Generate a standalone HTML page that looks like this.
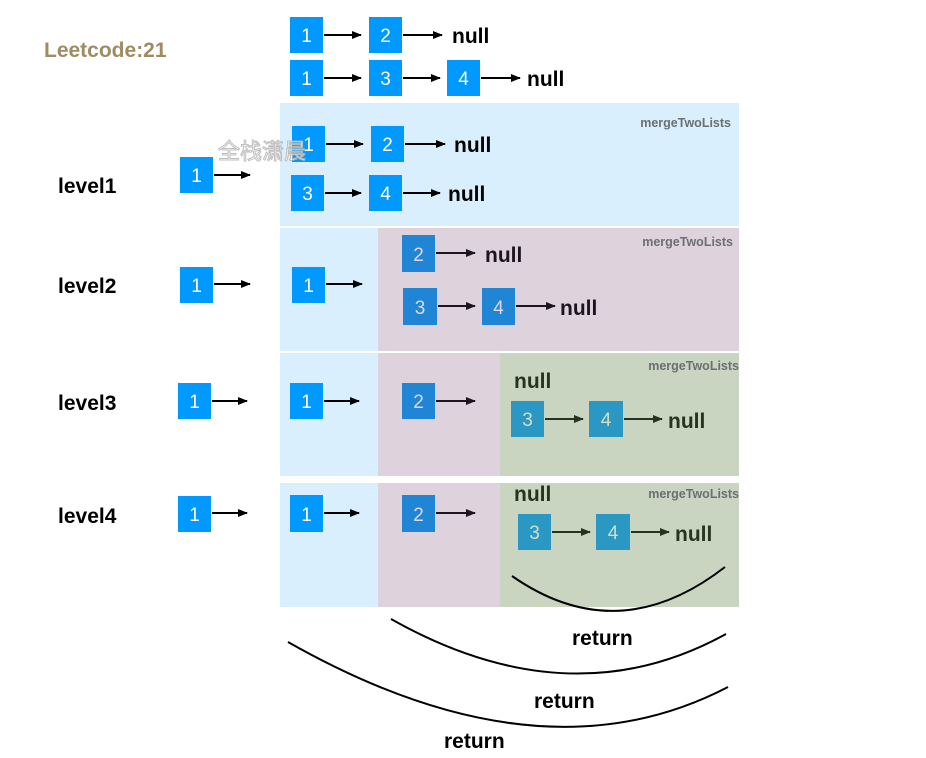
<!DOCTYPE html>
<html><head><meta charset="utf-8"><style>
html,body{margin:0;padding:0;background:#fff;width:926px;height:758px;overflow:hidden}
svg{display:block}
text{font-family:"Liberation Sans","Noto Sans CJK SC",sans-serif}
.n{fill:#fff;font-size:19px;text-anchor:middle}
.b{font-weight:bold;font-size:21px}
.lv{font-weight:bold;font-size:21px;fill:#000}
.m{font-weight:bold;font-size:12.5px;fill:#6b6f73}
</style></head><body>
<svg width="926" height="758" viewBox="0 0 926 758">
<defs>
<marker id="a" markerWidth="10" markerHeight="8" refX="9" refY="4" orient="auto" markerUnits="userSpaceOnUse"><polygon points="0,0 10,4 0,8" fill="#000"/></marker>
<marker id="g" markerWidth="10" markerHeight="8" refX="9" refY="4" orient="auto" markerUnits="userSpaceOnUse"><polygon points="0,0 10,4 0,8" fill="#26331f"/></marker>
<marker id="p" markerWidth="10" markerHeight="8" refX="9" refY="4" orient="auto" markerUnits="userSpaceOnUse"><polygon points="0,0 10,4 0,8" fill="#1d1420"/></marker>
</defs>

<rect x="280" y="103" width="459" height="123" fill="#d9effd"/>
<rect x="280" y="228" width="98" height="123" fill="#d9effd"/>
<rect x="378" y="228" width="361" height="123" fill="#ded3dc"/>
<rect x="280" y="353" width="98" height="123" fill="#d9effd"/>
<rect x="378" y="353" width="122" height="123" fill="#ded3dc"/>
<rect x="500" y="353" width="239" height="123" fill="#c9d5c0"/>
<rect x="280" y="483" width="98" height="124" fill="#d9effd"/>
<rect x="378" y="483" width="122" height="124" fill="#ded3dc"/>
<rect x="500" y="483" width="239" height="124" fill="#c9d5c0"/>

<text x="44" y="57" style="font-weight:bold;font-size:21px;fill:#a08c62">Leetcode:21</text>

<rect x="290" y="17" width="33" height="36" fill="#0099ff"/><text class="n" x="306.5" y="42">1</text>
<line x1="324" y1="35" x2="361" y2="35" stroke="#000" stroke-width="2" marker-end="url(#a)"/>
<rect x="369" y="17" width="33" height="36" fill="#0099ff"/><text class="n" x="385.5" y="42">2</text>
<line x1="403" y1="35" x2="442" y2="35" stroke="#000" stroke-width="2" marker-end="url(#a)"/>
<text class="b" x="452" y="43">null</text>
<rect x="290" y="60" width="33" height="36" fill="#0099ff"/><text class="n" x="306.5" y="85">1</text>
<line x1="324" y1="78" x2="361" y2="78" stroke="#000" stroke-width="2" marker-end="url(#a)"/>
<rect x="369" y="60" width="33" height="36" fill="#0099ff"/><text class="n" x="385.5" y="85">3</text>
<line x1="403" y1="78" x2="440" y2="78" stroke="#000" stroke-width="2" marker-end="url(#a)"/>
<rect x="447" y="60" width="33" height="36" fill="#0099ff"/><text class="n" x="463.5" y="85">4</text>
<line x1="481" y1="78" x2="520" y2="78" stroke="#000" stroke-width="2" marker-end="url(#a)"/>
<text class="b" x="527" y="86">null</text>

<text class="lv" x="58" y="193">level1</text>
<rect x="180" y="157" width="33" height="36" fill="#0099ff"/><text class="n" x="196.5" y="182">1</text>
<line x1="214" y1="175" x2="250" y2="175" stroke="#000" stroke-width="2" marker-end="url(#a)"/>
<text class="m" x="731" y="127" text-anchor="end">mergeTwoLists</text>
<rect x="292" y="126" width="33" height="36" fill="#0099ff"/><text class="n" x="308.5" y="151">1</text>
<line x1="326" y1="144" x2="363" y2="144" stroke="#000" stroke-width="2" marker-end="url(#a)"/>
<rect x="371" y="126" width="33" height="36" fill="#0099ff"/><text class="n" x="387.5" y="151">2</text>
<line x1="405" y1="144" x2="445" y2="144" stroke="#000" stroke-width="2" marker-end="url(#a)"/>
<text class="b" x="454" y="152">null</text>
<rect x="291" y="175" width="33" height="36" fill="#0099ff"/><text class="n" x="307.5" y="200">3</text>
<line x1="325" y1="193" x2="361" y2="193" stroke="#000" stroke-width="2" marker-end="url(#a)"/>
<rect x="369" y="175" width="33" height="36" fill="#0099ff"/><text class="n" x="385.5" y="200">4</text>
<line x1="403" y1="193" x2="440" y2="193" stroke="#000" stroke-width="2" marker-end="url(#a)"/>
<text class="b" x="448" y="201">null</text>
<text x="218" y="159" style="font-size:22px;fill:#fff;stroke:#b8b8b8;stroke-width:1;opacity:.9">全栈潇晨</text>

<text class="lv" x="58" y="293">level2</text>
<rect x="180" y="267" width="33" height="36" fill="#0099ff"/><text class="n" x="196.5" y="292">1</text>
<line x1="214" y1="284" x2="250" y2="284" stroke="#000" stroke-width="2" marker-end="url(#a)"/>
<rect x="292" y="267" width="33" height="36" fill="#0099ff"/><text class="n" x="308.5" y="292">1</text>
<line x1="326" y1="284" x2="362" y2="284" stroke="#000" stroke-width="2" marker-end="url(#a)"/>
<text class="m" x="733" y="246" text-anchor="end">mergeTwoLists</text>
<rect x="402" y="235" width="33" height="37" fill="#2185d5"/><text class="n" x="418.5" y="261" style="fill:#e0d8e8">2</text>
<line x1="436" y1="253" x2="475" y2="253" stroke="#1d1420" stroke-width="2" marker-end="url(#p)"/>
<text class="b" x="485" y="262" fill="#1d1420">null</text>
<rect x="403" y="288" width="34" height="37" fill="#2185d5"/><text class="n" x="420" y="314" style="fill:#e0d8e8">3</text>
<line x1="438" y1="306" x2="475" y2="306" stroke="#1d1420" stroke-width="2" marker-end="url(#p)"/>
<rect x="482" y="288" width="33" height="37" fill="#2185d5"/><text class="n" x="498.5" y="314" style="fill:#e0d8e8">4</text>
<line x1="516" y1="306" x2="555" y2="306" stroke="#1d1420" stroke-width="2" marker-end="url(#p)"/>
<text class="b" x="560" y="315" fill="#1d1420">null</text>

<text class="lv" x="58" y="410">level3</text>
<rect x="178" y="383" width="33" height="36" fill="#0099ff"/><text class="n" x="194.5" y="408">1</text>
<line x1="212" y1="401" x2="247" y2="401" stroke="#000" stroke-width="2" marker-end="url(#a)"/>
<rect x="290" y="383" width="33" height="36" fill="#0099ff"/><text class="n" x="306.5" y="408">1</text>
<line x1="324" y1="401" x2="359" y2="401" stroke="#000" stroke-width="2" marker-end="url(#a)"/>
<rect x="402" y="383" width="33" height="36" fill="#2185d5"/><text class="n" x="418.5" y="408" style="fill:#e0d8e8">2</text>
<line x1="436" y1="401" x2="475" y2="401" stroke="#1d1420" stroke-width="2" marker-end="url(#p)"/>
<text class="m" x="739" y="370" text-anchor="end">mergeTwoLists</text>
<text class="b" x="514" y="388" fill="#26331f">null</text>
<rect x="511" y="401" width="33" height="36" fill="#2b98c3"/><text class="n" x="527.5" y="426" style="fill:#cfe0c8">3</text>
<line x1="545" y1="419" x2="583" y2="419" stroke="#26331f" stroke-width="2" marker-end="url(#g)"/>
<rect x="589" y="401" width="34" height="36" fill="#2b98c3"/><text class="n" x="606" y="426" style="fill:#cfe0c8">4</text>
<line x1="624" y1="419" x2="662" y2="419" stroke="#26331f" stroke-width="2" marker-end="url(#g)"/>
<text class="b" x="668" y="428" fill="#26331f">null</text>

<text class="lv" x="58" y="523">level4</text>
<rect x="178" y="496" width="33" height="36" fill="#0099ff"/><text class="n" x="194.5" y="521">1</text>
<line x1="212" y1="513" x2="247" y2="513" stroke="#000" stroke-width="2" marker-end="url(#a)"/>
<rect x="290" y="495" width="33" height="37" fill="#0099ff"/><text class="n" x="306.5" y="521">1</text>
<line x1="324" y1="513" x2="359" y2="513" stroke="#000" stroke-width="2" marker-end="url(#a)"/>
<rect x="402" y="495" width="33" height="37" fill="#2185d5"/><text class="n" x="418.5" y="521" style="fill:#e0d8e8">2</text>
<line x1="436" y1="513" x2="475" y2="513" stroke="#1d1420" stroke-width="2" marker-end="url(#p)"/>
<text class="m" x="739" y="498" text-anchor="end">mergeTwoLists</text>
<text class="b" x="514" y="501" fill="#26331f">null</text>
<rect x="518" y="514" width="33" height="36" fill="#2b98c3"/><text class="n" x="534.5" y="539" style="fill:#cfe0c8">3</text>
<line x1="552" y1="532" x2="590" y2="532" stroke="#26331f" stroke-width="2" marker-end="url(#g)"/>
<rect x="596" y="514" width="34" height="36" fill="#2b98c3"/><text class="n" x="613" y="539" style="fill:#cfe0c8">4</text>
<line x1="631" y1="532" x2="669" y2="532" stroke="#26331f" stroke-width="2" marker-end="url(#g)"/>
<text class="b" x="675" y="541" fill="#26331f">null</text>

<path d="M512,576 Q618,650 725,567" fill="none" stroke="#000" stroke-width="2"/>
<path d="M391,619 Q570,720 726,634" fill="none" stroke="#000" stroke-width="2"/>
<path d="M288,642 Q540,785 728,687" fill="none" stroke="#000" stroke-width="2"/>
<text class="b" x="572" y="645" fill="#000">return</text>
<text class="b" x="534" y="708" fill="#000">return</text>
<text class="b" x="444" y="748" fill="#000">return</text>
</svg>
</body></html>
